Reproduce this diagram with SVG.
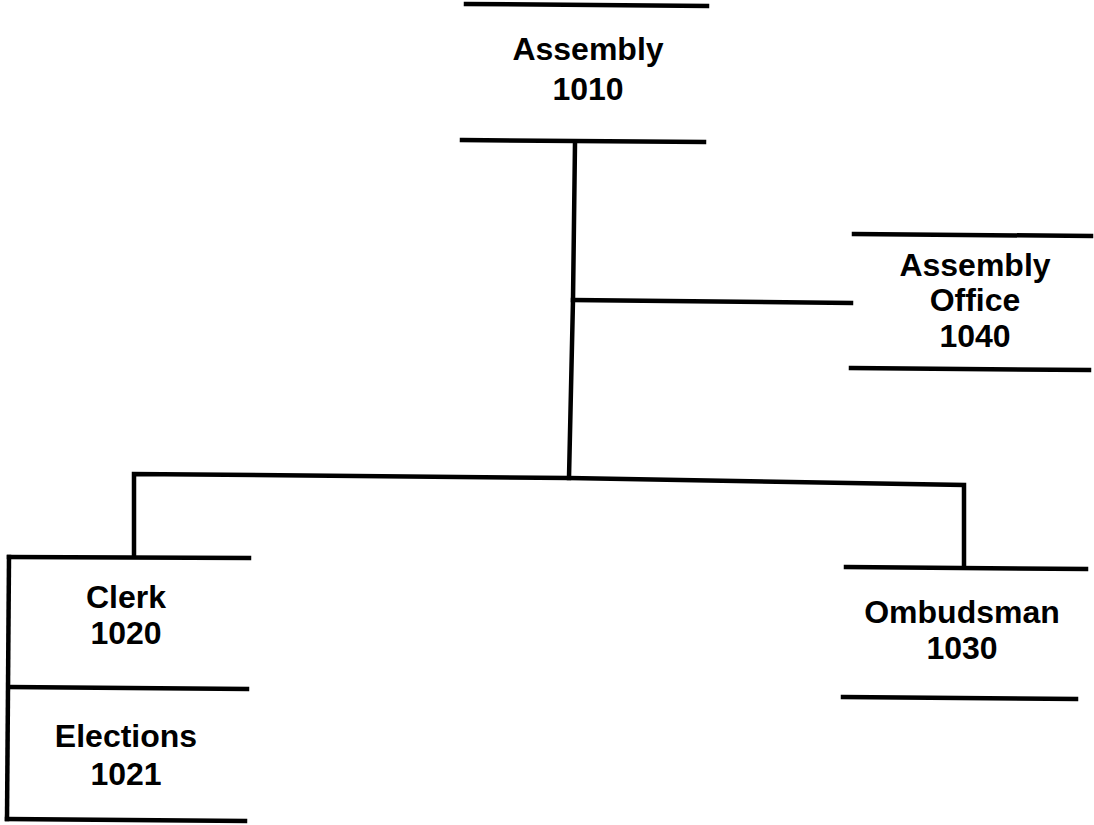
<svg xmlns="http://www.w3.org/2000/svg" width="1094" height="825" viewBox="0 0 1094 825">
<style>
.ln{stroke:#000;stroke-width:4.5;fill:none;stroke-linecap:square}
.t{font-family:"Liberation Sans",Arial,sans-serif;font-weight:bold;font-size:32px;fill:#000;text-anchor:middle}
</style>
<rect width="1094" height="825" fill="#fff"/>
<g id="connectors" class="ln">
<polyline points="575,143 573,300 569,478"/>
<line x1="573" y1="300" x2="851" y2="303"/>
<polyline points="134,556 134,474 569,478 964,485 964,567"/>
</g>
<g id="assembly">
<line class="ln" x1="466" y1="4" x2="707" y2="6"/>
<line class="ln" x1="462" y1="140" x2="704" y2="142"/>
<text class="t" x="588" y="60">Assembly</text>
<text class="t" x="588" y="100">1010</text>
</g>
<g id="assembly-office">
<line class="ln" x1="854" y1="234" x2="1091" y2="236"/>
<line class="ln" x1="851" y1="368" x2="1089" y2="370"/>
<text class="t" x="975" y="276">Assembly</text>
<text class="t" x="975" y="311">Office</text>
<text class="t" x="975" y="347">1040</text>
</g>
<g id="clerk">
<line class="ln" x1="9" y1="557" x2="249" y2="558"/>
<line class="ln" x1="9" y1="557" x2="7" y2="819"/>
<line class="ln" x1="9" y1="687" x2="247" y2="689"/>
<text class="t" x="126" y="608">Clerk</text>
<text class="t" x="126" y="644">1020</text>
</g>
<g id="elections">
<line class="ln" x1="7" y1="819" x2="245" y2="821"/>
<text class="t" x="126" y="747">Elections</text>
<text class="t" x="126" y="785">1021</text>
</g>
<g id="ombudsman">
<line class="ln" x1="846" y1="567" x2="1086" y2="569"/>
<line class="ln" x1="843" y1="697" x2="1076" y2="699"/>
<text class="t" x="962" y="623">Ombudsman</text>
<text class="t" x="962" y="659">1030</text>
</g>
</svg>
